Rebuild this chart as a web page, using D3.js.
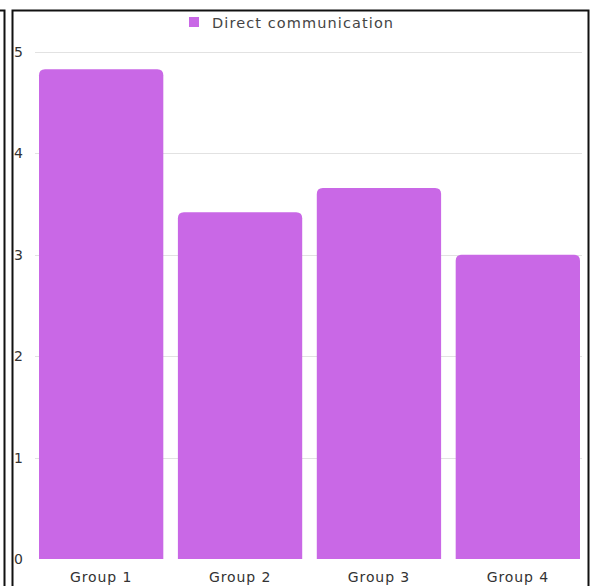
<!DOCTYPE html>
<html>
<head>
<meta charset="utf-8">
<script src="https://cdn.jsdelivr.net/npm/d3@7"></script>
<style>
  html, body { margin: 0; padding: 0; background: #fff; }
  svg { display: block; }
</style>
</head>
<body>
<div id="chart"></div>
<script>
const categories = ["Group 1", "Group 2", "Group 3", "Group 4"];
const seriesName = "Direct communication";
const values = [4.83, 3.42, 3.66, 3.0];
const yTicks = [0, 1, 2, 3, 4, 5];

const W = 593, H = 586;
const barColor = "#c968e6";
const font = "'DejaVu Sans', Inter, sans-serif";
const svg = d3.select("#chart").append("svg").attr("width", W).attr("height", H);

// frame
svg.append("path").attr("d", "M0,10.5 H4.5 V586").attr("fill", "none").attr("stroke", "#111").attr("stroke-width", 2);
svg.append("path").attr("d", "M12.5,586 V10.5 H588.5 V586").attr("fill", "none").attr("stroke", "#111").attr("stroke-width", 2);

const x = d3.scaleBand().domain(categories).range([39, 580]).paddingInner(0.105).paddingOuter(0);
const y = d3.scaleLinear().domain([0, 5]).range([559, 52]);

// grid
svg.append("g").selectAll("line").data(yTicks.filter(d => d > 0)).join("line")
  .attr("x1", 35).attr("x2", 582)
  .attr("y1", d => Math.round(y(d)) + 0.5).attr("y2", d => Math.round(y(d)) + 0.5)
  .attr("stroke", "#e2e2e2").attr("stroke-width", 1);

// y labels
svg.append("g").selectAll("text").data(yTicks).join("text")
  .attr("x", 14).attr("y", d => y(d) + 5)
  .attr("font-family", font).attr("font-size", 14)
  .attr("fill", "#333").text(d => d);

// bars with rounded top corners
const r = 6;
svg.append("g").selectAll("path").data(values).join("path")
  .attr("fill", barColor)
  .attr("d", (v, i) => {
    const x0 = x(categories[i]), w = x.bandwidth(), y0 = y(0), yt = y(v);
    return `M${x0},${y0} V${yt + r} Q${x0},${yt} ${x0 + r},${yt} H${x0 + w - r} Q${x0 + w},${yt} ${x0 + w},${yt + r} V${y0} Z`;
  });

// x labels
svg.append("g").selectAll("text").data(categories).join("text")
  .attr("x", d => x(d) + x.bandwidth() / 2).attr("y", 582)
  .attr("text-anchor", "middle")
  .attr("font-family", font).attr("font-size", 14).attr("letter-spacing", 0.9)
  .attr("fill", "#333").text(d => d);

// legend
svg.append("rect").attr("x", 189).attr("y", 17).attr("width", 10).attr("height", 10).attr("fill", barColor);
svg.append("text").attr("x", 212).attr("y", 28)
  .attr("font-family", font).attr("font-size", 14.5).attr("letter-spacing", 1.1)
  .attr("fill", "#444").text(seriesName);
</script>
</body>
</html>
